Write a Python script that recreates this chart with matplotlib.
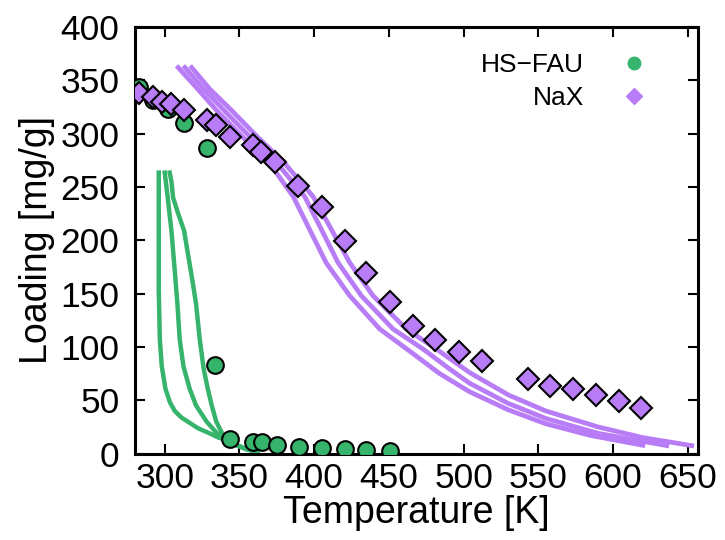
import matplotlib
matplotlib.use("Agg")
import matplotlib.pyplot as plt
from matplotlib.lines import Line2D

plt.rcParams["font.family"] = ["Liberation Sans", "DejaVu Sans"]

GREEN = "#36b46c"
PURPLE = "#b87df6"

# --- measured points ---
hsfau_T = [283, 292, 302, 313, 328, 333.5, 343.5, 359, 365, 375, 390, 405, 420.5, 435, 451]
hsfau_L = [344, 332, 323, 310, 287, 83, 14, 11, 11, 8, 6.5, 5.6, 4.7, 3.7, 2.8]

nax_T = [283, 292, 298, 304, 313, 328, 334.5, 343.5, 359, 364.5, 374, 389.5, 405, 420.5,
         435, 450.5, 466, 481, 497, 512, 543, 558, 573, 588.5, 604, 619]
nax_L = [338, 334, 330, 328, 322, 313, 308, 297, 289, 283, 273, 251, 231, 199,
         169, 142, 120, 106.5, 95, 87, 70, 63.5, 60.7, 55, 49.5, 43]

# --- model curves (three per adsorbent) ---
hsfau_fit_T = [
    [296, 296, 296, 296.7, 298, 300.5, 303.5, 306.7, 311, 315.4, 322, 330, 336, 342, 348, 355, 362],
    [300, 302, 304.5, 306.5, 308.5, 310, 312.5, 316.7, 321, 328, 335, 342, 348, 355, 362],
    [303.3, 304.5, 305.6, 309, 313, 315.2, 316.7, 319, 321, 323.4, 326, 328.8, 331.5, 334.5,
     338, 342, 348, 355, 362],
]
hsfau_fit_L = [
    [263.5, 200, 154, 107.5, 82, 60.7, 48, 40, 34, 30, 24, 19, 15, 12.5, 8, 4, 1.5],
    [263.5, 240, 208.7, 175, 140, 107.5, 82, 60.7, 45, 30, 19, 13, 8, 4, 1.5],
    [263.5, 255, 240, 225, 208.7, 190, 177.6, 158, 140, 107.5, 80, 60.7, 45, 30,
     20, 13, 8, 4, 1.5],
]

nax_fit_T = [
    [309, 322, 334.6, 352, 370, 386, 397, 408, 423.8, 443.9, 464, 484, 504, 530, 555, 585, 620],
    [313.5, 326, 339.6, 357, 375, 393.7, 404.9, 416, 431.6, 452.8, 472.9, 490, 504, 530, 555,
     590, 636],
    [318, 330, 344.6, 362, 380, 399.3, 411.6, 423.8, 439.4, 461.7, 481.8, 504, 530, 555, 590,
     620, 652.7],
]
nax_fit_L = [
    [362, 342, 322, 297, 272.6, 241, 210, 179, 148, 116.8, 96, 75, 58, 41, 28, 17, 7.8],
    [362, 342, 322, 297, 272.6, 241, 210, 179, 148, 116.8, 98, 80, 66, 47, 33, 19, 7.5],
    [362, 342, 322, 297, 272.6, 241, 210, 179, 148, 116.8, 98, 76, 55, 40, 25, 15, 7.5],
]

fig = plt.figure(figsize=(7.25, 5.4), dpi=100)
ax = fig.add_axes([0.186, 0.160, 0.777, 0.790])

for T, L in zip(hsfau_fit_T, hsfau_fit_L):
    ax.plot(T, L, color=GREEN, lw=3.2, solid_joinstyle="round", zorder=2)
for T, L in zip(nax_fit_T, nax_fit_L):
    ax.plot(T, L, color=PURPLE, lw=3.4, solid_joinstyle="round", zorder=2)

ax.plot(hsfau_T, hsfau_L, "o", ms=12, mfc=GREEN, mec="black", mew=1.5, zorder=3)
ax.plot(nax_T, nax_L, "D", ms=11, mfc=PURPLE, mec="black", mew=1.5, zorder=4)

ax.set_xlim(280, 657)
ax.set_ylim(0, 400)
ax.set_xticks(range(300, 651, 50))
ax.set_yticks(range(0, 401, 50))
ax.tick_params(direction="in", length=7, width=1.5, labelsize=25.5,
               top=True, right=True)
ax.tick_params(axis="y", pad=11)
ax.tick_params(axis="x", pad=6)
for s in ax.spines.values():
    s.set_linewidth(2.2)

ax.set_xlabel("Temperature [K]", fontsize=27, labelpad=0)
ax.set_ylabel("Loading [mg/g]", fontsize=27, labelpad=4)

handles = [
    Line2D([], [], ls="none", marker="o", ms=9, mfc=GREEN, mec=GREEN),
    Line2D([], [], ls="none", marker="D", ms=8, mfc=PURPLE, mec=PURPLE),
]
ax.legend(handles, ["HS\u2212FAU", "NaX"], loc="upper right", frameon=False,
          markerfirst=False, fontsize=19, handletextpad=0.9, labelspacing=0.35,
          bbox_to_anchor=(0.975, 0.995))

fig.savefig("out.png", dpi=100)
